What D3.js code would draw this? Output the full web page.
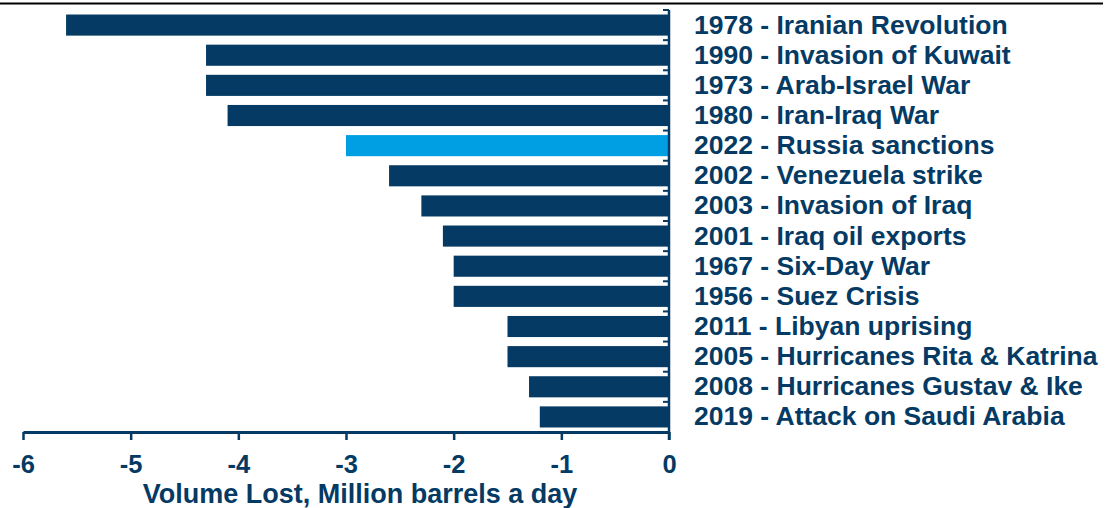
<!DOCTYPE html>
<html>
<head>
<meta charset="utf-8">
<script src="https://cdn.jsdelivr.net/npm/d3@7"></script>
<style>
  html, body { margin: 0; padding: 0; background: #fff; }
  svg { display: block; }
</style>
</head>
<body>
<svg id="chart" width="1114" height="508"></svg>
<script>
const categories = [
  "1978 - Iranian Revolution",
  "1990 - Invasion of Kuwait",
  "1973 - Arab-Israel War",
  "1980 - Iran-Iraq War",
  "2022 - Russia sanctions",
  "2002 - Venezuela strike",
  "2003 - Invasion of Iraq",
  "2001 - Iraq oil exports",
  "1967 - Six-Day War",
  "1956 - Suez Crisis",
  "2011 - Libyan uprising",
  "2005 - Hurricanes Rita & Katrina",
  "2008 - Hurricanes Gustav & Ike",
  "2019 - Attack on Saudi Arabia"
];
const volumeLost = [-5.6, -4.3, -4.3, -4.1, -3.0, -2.6, -2.3, -2.1, -2.0, -2.0, -1.5, -1.5, -1.3, -1.2];
const highlight = ["2022 - Russia sanctions"];
const xTicks = [-6, -5, -4, -3, -2, -1, 0];
const xTitle = "Volume Lost, Million barrels a day";

const navy = "#043a63";
const lightBlue = "#009fe3";
const font = "'Liberation Sans', Arial, sans-serif";

const svg = d3.select("#chart");

// top border line
svg.append("line")
  .attr("x1", 0).attr("x2", 1103)
  .attr("y1", 3.5).attr("y2", 3.5)
  .attr("stroke", "#000").attr("stroke-width", 2);

const x = d3.scaleLinear().domain([-6, 0]).range([23, 669]);
const y = d3.scaleBand().domain(categories).range([10, 432]).paddingInner(0.3).paddingOuter(0.15);

// bars
svg.append("g").selectAll("rect")
  .data(categories)
  .join("rect")
  .attr("x", (d, i) => x(volumeLost[i]))
  .attr("y", d => y(d))
  .attr("width", (d, i) => x(0) - x(volumeLost[i]))
  .attr("height", y.bandwidth())
  .attr("fill", d => highlight.includes(d) ? lightBlue : navy);

// y axis line with band-boundary ticks
const yAxisG = svg.append("g");
yAxisG.append("line")
  .attr("x1", x(0)).attr("x2", x(0))
  .attr("y1", 10).attr("y2", 440)
  .attr("stroke", navy).attr("stroke-width", 2.5);
const boundaries = categories.map(d => y(d) - y.step() * y.paddingInner() / 2);
yAxisG.selectAll("line.bt")
  .data(boundaries)
  .join("line")
  .attr("class", "bt")
  .attr("x1", x(0) - 6).attr("x2", x(0))
  .attr("y1", d => d).attr("y2", d => d)
  .attr("stroke", navy).attr("stroke-width", 2);

// category labels
svg.append("g").selectAll("text")
  .data(categories)
  .join("text")
  .attr("x", 694)
  .attr("y", d => y(d) + y.bandwidth() / 2 + 8.5)
  .attr("fill", navy)
  .attr("font-family", font)
  .attr("font-weight", "bold")
  .attr("font-size", "26.5px")
  .text(d => d);

// x axis
const xAxis = d3.axisBottom(x).tickValues(xTicks).tickFormat(d => String(d)).tickSize(8).tickSizeOuter(0);
const xg = svg.append("g").attr("transform", "translate(0,432)").call(xAxis);
xg.select(".domain").attr("stroke", navy).attr("stroke-width", 3);
xg.selectAll(".tick line").attr("stroke", navy).attr("stroke-width", 2.5);
xg.selectAll(".tick text")
  .attr("fill", navy)
  .attr("font-family", font)
  .attr("font-weight", "bold")
  .attr("font-size", "25.5px")
  .attr("y", 41)
  .attr("dy", null);

// x axis title
svg.append("text")
  .attr("x", 360).attr("y", 503)
  .attr("text-anchor", "middle")
  .attr("fill", navy)
  .attr("font-family", font)
  .attr("font-weight", "bold")
  .attr("font-size", "27px")
  .text(xTitle);
</script>
</body>
</html>
